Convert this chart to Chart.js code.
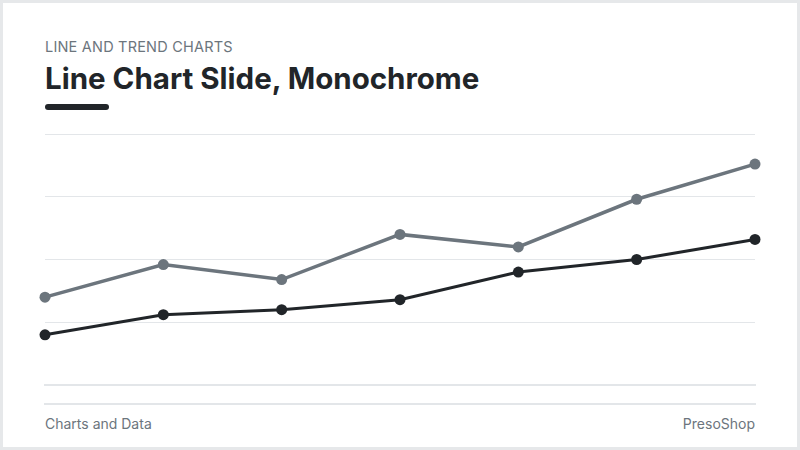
<!DOCTYPE html>
<html>
<head>
    <meta charset="UTF-8">
    <title>Line Chart Slide, Monochrome</title>
    <script src="https://cdn.jsdelivr.net/npm/chart.js"></script>
    <style>
        html, body { margin: 0; padding: 0; }
        body {
            width: 800px; height: 450px; overflow: hidden;
            background: #e6e8ea;
            font-family: Inter, "Noto Sans", sans-serif;
        }
        .slide {
            position: absolute; left: 3px; top: 3px; width: 794px; height: 444px;
            background: #ffffff;
        }
        .kicker {
            position: absolute; left: 42px; top: 35px;
            font-size: 14.5px; color: #6c757d; letter-spacing: 0.2px;
        }
        .title {
            position: absolute; left: 42px; top: 57px;
            font-size: 29.5px; font-weight: 700; color: #212529;
        }
        .accent {
            position: absolute; left: 42px; top: 101px; width: 64px; height: 6px;
            border-radius: 3px; background: #212529;
        }
        .chart-box {
            position: absolute; left: 32px; top: 121px; width: 730px; height: 271px;
        }
        .rule {
            position: absolute; left: 41px; top: 400px; width: 712px; height: 2px;
            background: #e3e6e9;
        }
        .foot {
            position: absolute; top: 412px; font-size: 14px; color: #6c757d;
        }
        .foot.left { left: 42px; }
        .foot.right { right: 42px; }
    </style>
</head>
<body>
    <div class="slide">
        <div class="kicker">LINE AND TREND CHARTS</div>
        <div class="title">Line Chart Slide, Monochrome</div>
        <div class="accent"></div>
        <div class="chart-box">
            <canvas id="trendChart" width="730" height="271"></canvas>
        </div>
        <div class="rule"></div>
        <div class="foot left">Charts and Data</div>
        <div class="foot right">PresoShop</div>
    </div>

    <script>
        // data (y axis 0..100, labels hidden)
        var labels = ['P1', 'P2', 'P3', 'P4', 'P5', 'P6', 'P7'];
        var seriesA = [35, 48, 42, 60, 55, 74, 88];
        var seriesB = [20, 28, 30, 34, 45, 50, 58];
        var yTicks = [0, 25, 50, 75, 100];

        function createTrendChart() {
            var ctx = document.getElementById('trendChart').getContext('2d');
            var chart = new Chart(ctx, {
                type: 'line',
                data: {
                    labels: labels,
                    datasets: [{
                        label: 'Series A',
                        data: seriesA,
                        borderColor: '#6c757d',
                        backgroundColor: '#6c757d',
                        borderWidth: 3.5,
                        pointRadius: 5.5,
                        pointBorderWidth: 0,
                        tension: 0,
                        clip: false
                    }, {
                        label: 'Series B',
                        data: seriesB,
                        borderColor: '#212529',
                        backgroundColor: '#212529',
                        borderWidth: 3,
                        pointRadius: 5.5,
                        pointBorderWidth: 0,
                        tension: 0,
                        clip: false
                    }]
                },
                options: {
                    responsive: false,
                    animation: false,
                    layout: { padding: 10 },
                    plugins: {
                        legend: { display: false },
                        tooltip: { enabled: false }
                    },
                    scales: {
                        x: {
                            offset: false,
                            ticks: { display: false, padding: 0 },
                            grid: { display: false, drawTicks: false },
                            border: { display: true, color: '#e3e6e9', width: 2 }
                        },
                        y: {
                            min: yTicks[0],
                            max: yTicks[yTicks.length - 1],
                            ticks: { display: false, padding: 0, stepSize: yTicks[1] - yTicks[0] },
                            grid: { color: '#e3e6e9', lineWidth: 1, drawTicks: false },
                            border: { display: false }
                        }
                    }
                }
            });
        }
        createTrendChart();
    </script>
</body>
</html>
